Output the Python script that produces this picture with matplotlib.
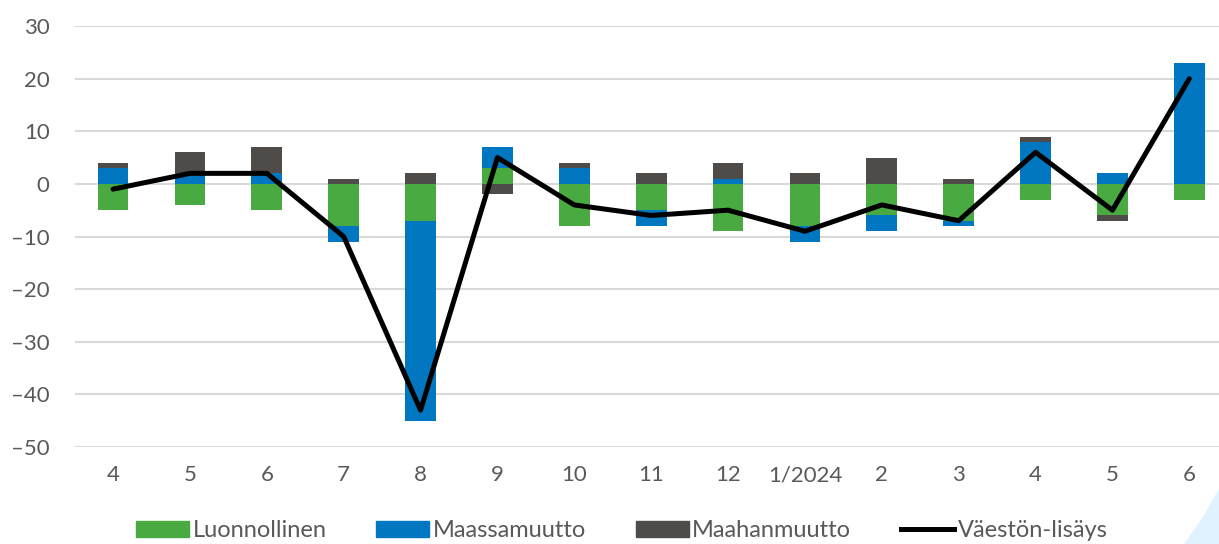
import numpy as np
import matplotlib.pyplot as plt
from matplotlib.patches import Polygon
from matplotlib.lines import Line2D
from matplotlib.ticker import FuncFormatter

plt.rcParams['font.family'] = ['Lato', 'DejaVu Sans']

months = ["4", "5", "6", "7", "8", "9", "10", "11", "12", "1/2024", "2", "3", "4", "5", "6"]
luonnollinen = [-5, -4, -5, -8, -7, 3, -8, -5, -9, -8, -6, -7, -3, -6, -3]
maassamuutto = [3, 2, 2, -3, -38, 4, 3, -3, 1, -3, -3, -1, 8, 2, 23]
maahanmuutto = [1, 4, 5, 1, 2, -2, 1, 2, 3, 2, 5, 1, 1, -1, 0]
vaestonlisays = [-1, 2, 2, -10, -43, 5, -4, -6, -5, -9, -4, -7, 6, -5, 20]

series = [
    ("Luonnollinen", luonnollinen, "#4aaa42"),
    ("Maassamuutto", maassamuutto, "#0077c0"),
    ("Maahanmuutto", maahanmuutto, "#4f4b49"),
]

fig = plt.figure(figsize=(12.19, 5.44), dpi=100)
ax = fig.add_axes([0.0612, 0.1783, 0.946, 0.7739])

x = np.arange(len(months))
pos_base = np.zeros(len(months))
neg_base = np.zeros(len(months))
handles = []
for name, vals, col in series:
    v = np.array(vals, dtype=float)
    bottoms = np.where(v >= 0, pos_base, neg_base)
    ax.bar(x, v, bottom=bottoms, width=0.4, color=col, zorder=2)
    pos_base += np.where(v > 0, v, 0)
    neg_base += np.where(v < 0, v, 0)
    handles.append(plt.Rectangle((0, 0), 1, 1, color=col))

ax.plot(x, vaestonlisays, color="black", lw=3.6, zorder=3, solid_capstyle="round")
handles.append(Line2D([0], [0], color="black", lw=3.6))

ax.set_xlim(-0.5, len(months) - 0.5)
ax.set_ylim(-50, 30)
ax.set_yticks(range(-50, 31, 10))
ax.yaxis.set_major_formatter(FuncFormatter(lambda v, p: f"{int(v)}".replace("-", "\u2013")))
ax.set_xticks(x)
ax.set_xticklabels(months)
ax.grid(axis="y", color="#d9d9d9", lw=1.5, zorder=0)
ax.set_axisbelow(True)
for s in ax.spines.values():
    s.set_visible(False)
ax.tick_params(axis="both", length=0, labelsize=16, colors="#595959")
ax.tick_params(axis="x", pad=13)
ax.tick_params(axis="y", pad=18)

fig.legend(handles, [s[0] for s in series] + ["Väestön-lisäys"],
           loc="center", bbox_to_anchor=(0.51, 0.024), ncol=4, frameon=False,
           fontsize=17, labelcolor="#595959", handlelength=2.25, handleheight=0.7,
           handletextpad=0.15, columnspacing=2.1)

# decorative light-blue shape at the bottom-right corner
fig.patches.append(Polygon([(1185 / 1219, 0), (1.0, 0), (1.0, 1 - 490 / 544),
                            (1205 / 1219, 1 - 515 / 544)],
                           closed=True, transform=fig.transFigure,
                           color="#e0f2fd", zorder=0))

fig.savefig("out.png", dpi=100)
